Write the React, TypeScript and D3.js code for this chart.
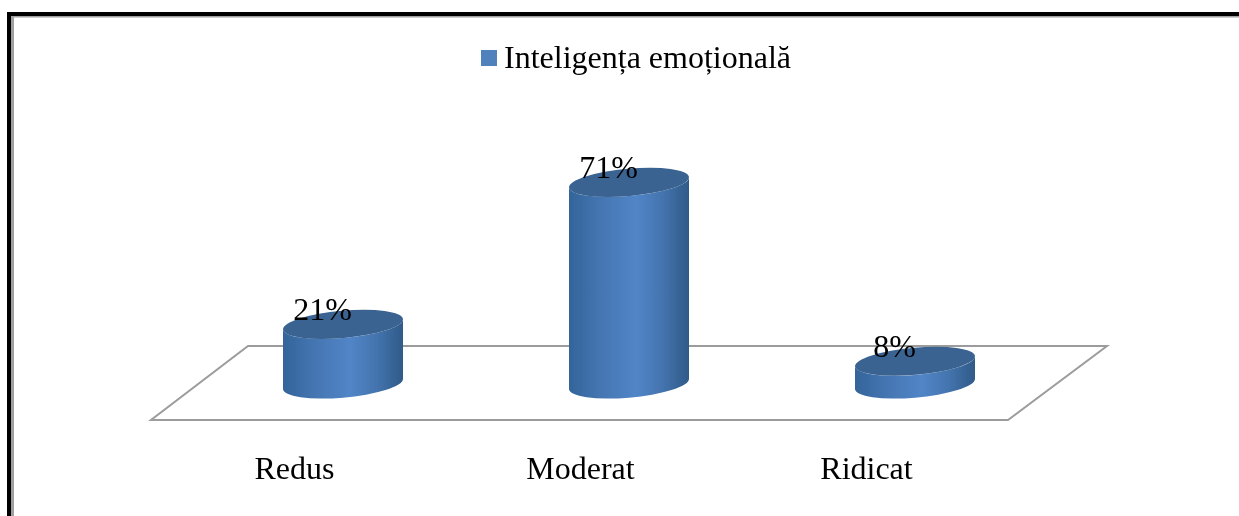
import { useEffect, useRef } from 'react';
import * as d3 from 'd3';

const categories = ['Redus', 'Moderat', 'Ridicat'];
const values = [21, 71, 8];
const seriesName = 'Inteligența emoțională';

const width = 1239;
const height = 516;
const font = '"Liberation Serif", "Times New Roman", serif';

// half sizes of the tilted cylinder ends
const capRx = 60.2;
const capRy = 13.6;
const capTilt = -5;
const halfW = 60;
const tiltDy = 5;

export default function App() {
  const svgRef = useRef<SVGSVGElement>(null);

  useEffect(() => {
    if (!svgRef.current) return;
    const svg = d3.select(svgRef.current);
    svg.selectAll('*').remove();

    const xScale = d3.scalePoint<string>().domain(categories).range([343, 915]);
    const yScale = d3.scaleLinear().domain([0, 100]).range([384, 100]);

    const defs = svg.append('defs');
    const grad = defs
      .append('linearGradient')
      .attr('id', 'cyl')
      .attr('x1', 0)
      .attr('x2', 1)
      .attr('y1', 0)
      .attr('y2', 0);
    grad.append('stop').attr('offset', '0%').attr('stop-color', '#336499');
    grad.append('stop').attr('offset', '25%').attr('stop-color', '#4475b1');
    grad.append('stop').attr('offset', '56%').attr('stop-color', '#5185c7');
    grad.append('stop').attr('offset', '78%').attr('stop-color', '#4474ae');
    grad.append('stop').attr('offset', '100%').attr('stop-color', '#2f5a88');

    defs
      .append('filter')
      .attr('id', 'soft')
      .append('feGaussianBlur')
      .attr('stdDeviation', 0.6);

    // Frame
    svg.append('rect').attr('width', width).attr('height', height).attr('fill', '#fff');
    svg.append('rect').attr('x', 7).attr('y', 12).attr('width', 4).attr('height', height - 12).attr('fill', '#000');
    svg.append('rect').attr('x', 7).attr('y', 12).attr('width', width - 7).attr('height', 4).attr('fill', '#000');
    svg.append('rect').attr('x', 11).attr('y', 16).attr('width', 3).attr('height', height - 16).attr('fill', '#a0a0a0');
    svg.append('rect').attr('x', 11).attr('y', 16).attr('width', width - 11).attr('height', 1.5).attr('fill', '#a0a0a0');

    const g = svg.append('g').attr('filter', 'url(#soft)');

    // Floor
    const floor = d3.line()([
      [151, 420],
      [1008, 420],
      [1107, 346],
      [248, 346],
    ]);
    g.append('path')
      .attr('d', `${floor}Z`)
      .attr('fill', '#fff')
      .attr('stroke', '#9c9c9c')
      .attr('stroke-width', 2);

    // Cylinders
    const bars = g
      .selectAll('g.bar')
      .data(categories)
      .join('g')
      .attr('class', 'bar');

    bars
      .append('path')
      .attr('fill', 'url(#cyl)')
      .attr('d', (c, i) => {
        const cx = xScale(c) as number;
        const top = yScale(values[i]);
        const base = yScale(0);
        return [
          `M${cx - halfW},${top + tiltDy}`,
          `L${cx - halfW},${base + tiltDy}`,
          `A${capRx},${capRy} ${capTilt} 0 0 ${cx + halfW},${base - tiltDy}`,
          `L${cx + halfW},${top - tiltDy}`,
          `A${capRx},${capRy} ${capTilt} 0 1 ${cx - halfW},${top + tiltDy}`,
          'Z',
        ].join(' ');
      });

    bars
      .append('ellipse')
      .attr('rx', capRx)
      .attr('ry', capRy)
      .attr('fill', '#3a6492')
      .attr('transform', (c, i) => `translate(${xScale(c)},${yScale(values[i])}) rotate(${capTilt})`);

    // Data labels
    bars
      .append('text')
      .attr('x', (c) => (xScale(c) as number) - 20.5)
      .attr('y', (c, i) => yScale(values[i]) - 4.5)
      .attr('text-anchor', 'middle')
      .attr('font-family', font)
      .attr('font-size', 32)
      .attr('fill', '#000')
      .text((c, i) => `${values[i]}%`);

    // Category labels
    bars
      .append('text')
      .attr('x', (c) => (xScale(c) as number) - 48.5)
      .attr('y', 479)
      .attr('text-anchor', 'middle')
      .attr('font-family', font)
      .attr('font-size', 32)
      .attr('fill', '#000')
      .text((c) => c);

    // Legend
    g.append('rect')
      .attr('x', 481)
      .attr('y', 50)
      .attr('width', 16)
      .attr('height', 16)
      .attr('fill', '#4f81bd');
    g.append('text')
      .attr('x', 504)
      .attr('y', 68)
      .attr('font-family', font)
      .attr('font-size', 32)
      .attr('fill', '#000')
      .text(seriesName);
  }, []);

  return <svg ref={svgRef} width={width} height={height} style={{ position: 'absolute', left: 0, top: 0 }} />;
}
